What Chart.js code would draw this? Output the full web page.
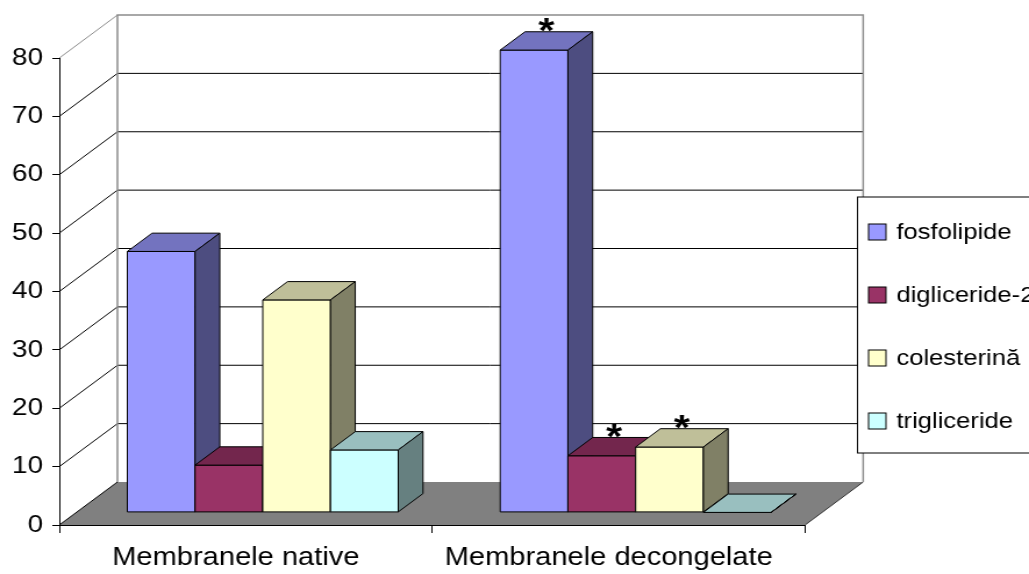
<!DOCTYPE html>
<html>
<head>
<meta charset="utf-8">
<title>Lipide membranare</title>
<script src="https://cdn.jsdelivr.net/npm/chart.js@4.4.1/dist/chart.umd.min.js"></script>
<style>
  html, body { margin: 0; padding: 0; background: #fff; overflow: hidden; }
</style>
</head>
<body>
<!-- drawn at 885px wide, shown 1029px wide: fonts come out wide like the original Excel export -->
<canvas id="lipidChart" width="885" height="574" style="width:1029px;height:574px"></canvas>
<script>
const categories = ['Membranele native', 'Membranele decongelate'];
const seriesNames = ['fosfolipide', 'digliceride-2', 'colesterină', 'trigliceride'];

const fosfolipide = [44.7, 79.2];
const digliceride = [8.1, 9.7];
const colesterina = [36.4, 11.2];
const trigliceride = [10.7, 0];

// '*' = significant difference vs native membranes
const stars = [['', '*'], ['', '*'], ['', '*'], ['', '']];

const yTicks = { min: 0, max: 80, step: 10 };

// front / top / side shades of each box
const frontColors = ['#9999FF', '#993366', '#FFFFCC', '#CCFFFF'];
const topColors = ['#7373BF', '#73264D', '#BFBF99', '#99BFBF'];
const sideColors = ['#4D4D80', '#4D1A33', '#808066', '#668080'];

const FONT = "'Liberation Sans', Arial, sans-serif";
const DEPTH_X = 50, DEPTH_Y = -43;     // full depth of the 3d box
const BAR_FRONT = 0.293, BAR_BACK = 0.719;

function shift(x, y, f) {
  return [x + f * DEPTH_X, y + f * DEPTH_Y];
}

function poly(ctx, pts, fill, stroke) {
  ctx.beginPath();
  ctx.moveTo(pts[0][0], pts[0][1]);
  for (let i = 1; i < pts.length; i++) ctx.lineTo(pts[i][0], pts[i][1]);
  ctx.closePath();
  if (fill) { ctx.fillStyle = fill; ctx.fill(); }
  if (stroke) { ctx.strokeStyle = stroke; ctx.lineWidth = 1; ctx.stroke(); }
}

function line(ctx, x1, y1, x2, y2, color, w) {
  ctx.beginPath();
  ctx.moveTo(x1, y1);
  ctx.lineTo(x2, y2);
  ctx.strokeStyle = color;
  ctx.lineWidth = w || 1;
  ctx.stroke();
}

// floor, back wall and side wall grid
const boxPlugin = {
  id: 'box3d',
  beforeDraw(chart) {
    const ctx = chart.ctx;
    const { left, right, top, bottom } = chart.chartArea;
    const y = chart.scales.y;
    ctx.save();
    poly(ctx, [[left, bottom], [right, bottom], [right + DEPTH_X, bottom + DEPTH_Y], [left + DEPTH_X, bottom + DEPTH_Y]], '#808080');
    line(ctx, right, bottom, right + DEPTH_X, bottom + DEPTH_Y, '#333333');

    y.ticks.forEach(t => {
      const py = y.getPixelForValue(t.value);
      if (t.value > yTicks.min && t.value < yTicks.max) {
        line(ctx, left + DEPTH_X, py + DEPTH_Y, right + DEPTH_X, py + DEPTH_Y, '#000000');
      }
      line(ctx, left, py, left + DEPTH_X, py + DEPTH_Y, t.value === yTicks.max ? '#8c8c8c' : '#000000');
    });

    ctx.beginPath();
    ctx.moveTo(left + DEPTH_X, bottom + DEPTH_Y);
    ctx.lineTo(left + DEPTH_X, top + DEPTH_Y);
    ctx.lineTo(right + DEPTH_X, top + DEPTH_Y);
    ctx.lineTo(right + DEPTH_X, bottom + DEPTH_Y);
    ctx.strokeStyle = '#8c8c8c';
    ctx.lineWidth = 1.5;
    ctx.stroke();
    ctx.restore();
  },

  // boxes instead of flat bars
  beforeDatasetsDraw(chart) {
    const ctx = chart.ctx;
    ctx.save();
    ctx.lineJoin = 'miter';
    const starList = [];
    chart.data.labels.forEach((lab, j) => {
      chart.data.datasets.forEach((ds, i) => {
        const el = chart.getDatasetMeta(i).data[j];
        const p = el.getProps(['x', 'y', 'base', 'width'], true);
        const l = p.x - p.width / 2, r = p.x + p.width / 2;
        const fl = shift(l, p.y, BAR_FRONT), fr = shift(r, p.y, BAR_FRONT);
        const bl = shift(l, p.y, BAR_BACK), br = shift(r, p.y, BAR_BACK);
        const flb = shift(l, p.base, BAR_FRONT), frb = shift(r, p.base, BAR_FRONT);
        const brb = shift(r, p.base, BAR_BACK);

        poly(ctx, [fl, fr, frb, flb], ds.backgroundColor, '#000');
        poly(ctx, [fl, fr, br, bl], ds.topColor, '#000');
        poly(ctx, [fr, br, brb, frb], ds.sideColor, '#000');

        if (stars[i][j]) starList.push({ text: stars[i][j], x: (fl[0] + br[0]) / 2, y: bl[1] });
      });
    });

    // significance marks sit on the back edge of the box top
    ctx.font = 'bold 100px ' + FONT;
    const m100 = ctx.measureText('*');
    const size = 13.5 / ((m100.actualBoundingBoxAscent + m100.actualBoundingBoxDescent) / 100);
    ctx.font = 'bold ' + size + 'px ' + FONT;
    const m = ctx.measureText('*');
    ctx.fillStyle = '#000';
    ctx.textAlign = 'center';
    ctx.textBaseline = 'alphabetic';
    starList.forEach(s => {
      ctx.fillText(s.text, s.x, s.y + 0.5 - m.actualBoundingBoxDescent);
    });
    ctx.restore();
    return false;
  },

  afterDraw(chart) {
    const ctx = chart.ctx;
    const rows = [232, 295, 358, 421];
    ctx.save();
    ctx.fillStyle = '#fff';
    ctx.fillRect(737.5, 197, 200, 256);
    ctx.strokeStyle = '#000';
    ctx.lineWidth = 1;
    ctx.strokeRect(737.5, 197, 200, 256);
    ctx.font = '22px ' + FONT;
    ctx.textBaseline = 'middle';
    ctx.textAlign = 'left';
    chart.data.datasets.forEach((ds, i) => {
      const cy = rows[i];
      ctx.fillStyle = ds.backgroundColor;
      ctx.fillRect(747, cy - 8, 15, 16);
      ctx.strokeStyle = '#000';
      ctx.strokeRect(747, cy - 8, 15, 16);
      ctx.fillStyle = '#000';
      ctx.fillText(ds.label, 771, cy + 1);
    });
    ctx.restore();
  }
};

const values = [fosfolipide, digliceride, colesterina, trigliceride];

const lipidChart = new Chart(document.getElementById('lipidChart'), {
  type: 'bar',
  data: {
    labels: categories,
    datasets: values.map((v, i) => ({
      label: seriesNames[i],
      data: v,
      backgroundColor: frontColors[i],
      topColor: topColors[i],
      sideColor: sideColors[i],
      borderWidth: 0,
      categoryPercentage: 0.7265,
      barPercentage: 1
    }))
  },
  options: {
    responsive: false,
    animation: false,
    layout: { padding: { top: 58, right: 192.6, bottom: 0, left: 0 } },
    plugins: {
      legend: { display: false },
      tooltip: { enabled: false }
    },
    scales: {
      x: {
        offset: true,
        grid: { offset: true, drawOnChartArea: false, tickLength: 8, color: '#000' },
        border: { color: '#000' },
        ticks: { font: { family: FONT, size: 25 }, color: '#000', padding: 10, labelOffset: -8.5, maxRotation: 0, autoSkip: false },
        afterFit: s => { s.height = 49; }
      },
      y: {
        min: yTicks.min,
        max: yTicks.max,
        grid: { drawOnChartArea: false, tickLength: 6, color: '#000' },
        border: { color: '#000' },
        ticks: { stepSize: yTicks.step, font: { family: FONT, size: 24 }, color: '#000', padding: 8 },
        afterFit: s => { s.width = 51; }
      }
    }
  },
  plugins: [boxPlugin]
});
</script>
</body>
</html>
